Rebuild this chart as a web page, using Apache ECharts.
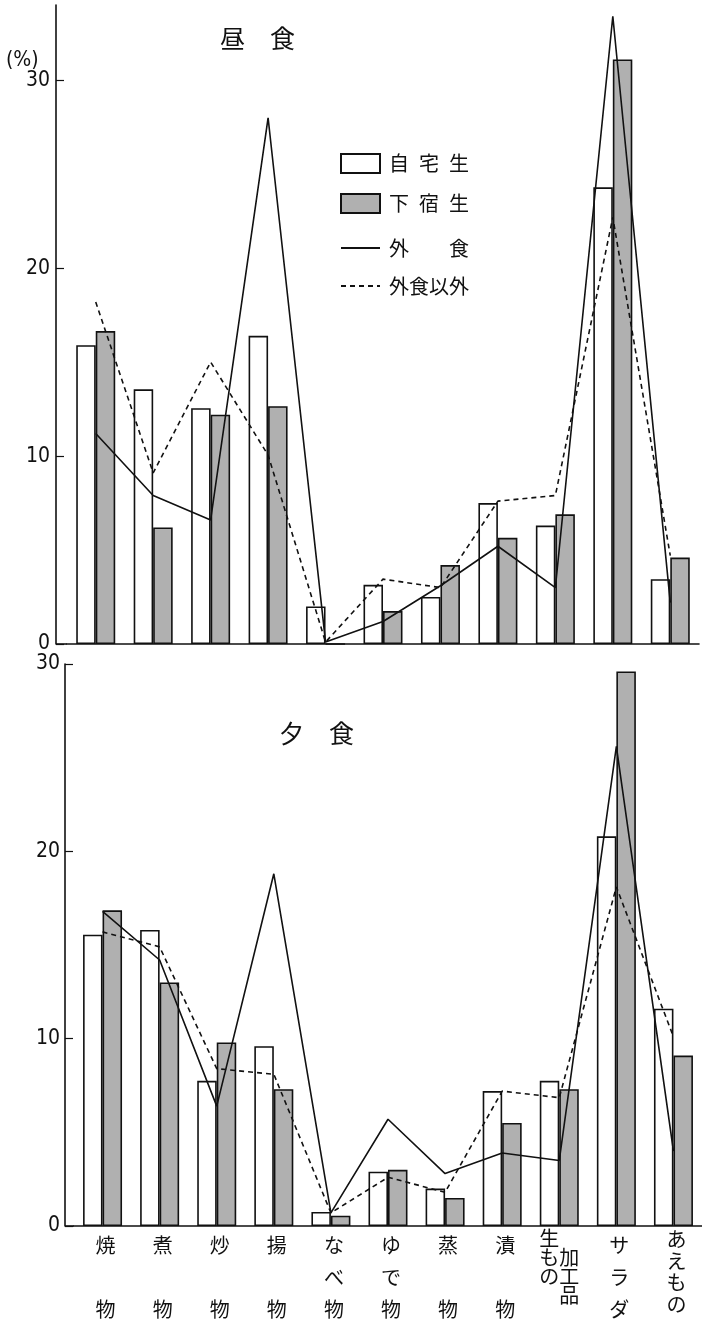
<!DOCTYPE html>
<html>
<head>
<meta charset="utf-8">
<script src="https://cdn.jsdelivr.net/npm/echarts@6/dist/echarts.min.js"></script>
<style>
  html, body { margin: 0; padding: 0; background: #fff; }
  #chart { width: 702px; height: 1319px; }
</style>
</head>
<body>
<div id="chart"></div>
<script>
// 料理法別の出現率 (%)
const categories = ['焼物', '煮物', '炒物', '揚物', 'なべ物', 'ゆで物', '蒸物', '漬物', '生もの加工品', 'サラダ', 'あえもの'];
const yTicks = [0, 10, 20, 30];

// 昼食
const lunchHome    = [15.9, 13.55, 12.55, 16.4, 2.0, 3.15, 2.5, 7.5, 6.3, 24.3, 3.45];   // 自宅生
const lunchBoard   = [16.65, 6.2, 12.2, 12.65, 0, 1.75, 4.2, 5.65, 6.9, 31.1, 4.6];      // 下宿生
const lunchOut     = [11.2, 7.9, 6.6, 28.0, 0.1, 1.2, 3.1, 5.2, 3.0, 33.4, 2.2];         // 外食
const lunchNotOut  = [18.2, 9.1, 15.0, 10.05, 0.1, 3.45, 3.0, 7.6, 7.9, 22.7, 4.7];      // 外食以外

// 夕食
const dinnerHome   = [15.55, 15.8, 7.75, 9.6, 0.75, 2.9, 2.0, 7.2, 7.75, 20.8, 11.6];
const dinnerBoard  = [16.85, 13.0, 9.8, 7.3, 0.55, 3.0, 1.5, 5.5, 7.3, 29.6, 9.1];
const dinnerOut    = [16.8, 14.2, 6.4, 18.8, 0.7, 5.7, 2.8, 3.9, 3.5, 25.6, 4.0];
const dinnerNotOut = [15.7, 14.9, 8.4, 8.1, 0.7, 2.6, 1.8, 7.2, 6.85, 18.1, 10.1];

const CJK = '"Noto Sans CJK JP", "Noto Sans", sans-serif';
const NUM = '"Liberation Sans Narrow", "DejaVu Sans Condensed", "Liberation Sans", sans-serif';
const INK = '#111';
const GRAY = '#b0b0b0';

// 縦書き風のカテゴリラベル
function verticalLabel(name) {
  if (name === '生もの加工品') {
    return ['{s|生\u3000}', '{s|も加}', '{s|の工}', '{s|\u3000品}'].join('\n');
  }
  const chars = Array.from(name);
  if (chars.length === 2) return ['{w|' + chars[0] + '}', '{w|\u3000}', '{w|' + chars[1] + '}'].join('\n');
  if (chars.length === 3) return chars.map(c => '{w|' + c + '}').join('\n');
  return chars.map(c => '{t|' + c + '}').join('\n');
}

const legendText = {
  '自宅生': '自\u2002宅\u2002生',
  '下宿生': '下\u2002宿\u2002生',
  '外食': '外\u3000\u3000食',
  '外食以外': '外食以外'
};

const grids = [
  { left: 67, width: 632, top: 5, height: 639, axisX: 56 },
  { left: 74, width: 630, top: 664, height: 562, axisX: 65 }
];

function xAxisFor(i, showLabels) {
  return {
    type: 'category', gridIndex: i, data: categories,
    axisLine: { lineStyle: { color: INK, width: 1.6 } },
    axisTick: { show: false },
    axisLabel: showLabels ? {
      interval: 0, margin: 3, color: INK,
      formatter: verticalLabel,
      rich: {
        w: { fontFamily: CJK, fontSize: 20, lineHeight: 32, color: INK, padding: [0, 0, 0, 6] },
        t: { fontFamily: CJK, fontSize: 20, lineHeight: 21.5, color: INK, padding: [0, 0, 0, 6] },
        s: { fontFamily: CJK, fontSize: 20, lineHeight: 19, color: INK }
      }
    } : { show: false }
  };
}

function yAxisFor(i, max, margin) {
  return {
    type: 'value', gridIndex: i, min: 0, max: max, interval: 10,
    offset: grids[i].left - grids[i].axisX,
    axisLine: { show: true, lineStyle: { color: INK, width: 1.6 } },
    axisTick: { show: true, inside: true, length: 8, customValues: yTicks, lineStyle: { color: INK, width: 1.2 } },
    axisLabel: { customValues: yTicks, margin: margin, color: INK, fontFamily: NUM, fontSize: 21 },
    splitLine: { show: false }
  };
}

function barSeries(name, data, i, color) {
  return {
    name: name, type: 'bar', xAxisIndex: i, yAxisIndex: i, data: data,
    barWidth: 19.5, barGap: '0%',
    itemStyle: { color: color, borderColor: INK, borderWidth: 1.6 },
    z: 2
  };
}

function lineSeries(name, data, i, dashed) {
  return {
    name: name, type: 'line', xAxisIndex: i, yAxisIndex: i, data: data,
    symbol: 'none',
    lineStyle: { color: INK, width: 1.6, type: dashed ? [5, 4] : 'solid' },
    itemStyle: { color: 'rgba(0,0,0,0)', borderWidth: 0 },
    z: 3
  };
}

const chart = echarts.init(document.getElementById('chart'), null, { renderer: 'canvas' });

chart.setOption({
  animation: false,
  backgroundColor: '#fff',
  title: [
    { text: '昼\u3000食', left: 215, top: 21, textStyle: { fontFamily: CJK, fontSize: 25, fontWeight: 'normal', color: INK } },
    { text: '夕\u3000食', left: 274, top: 716, textStyle: { fontFamily: CJK, fontSize: 25, fontWeight: 'normal', color: INK } },
    { text: '(%)', left: 1, top: 45, textStyle: { fontFamily: NUM, fontSize: 21, fontWeight: 'normal', color: INK } }
  ],
  legend: [
    {
      data: ['自宅生', '下宿生'], orient: 'vertical', left: 335, top: 148,
      icon: 'rect',
      itemWidth: 39, itemHeight: 19, itemGap: 19,
      formatter: n => legendText[n],
      textStyle: { fontFamily: CJK, fontSize: 20, color: INK, padding: [0, 0, 0, 4] }
    },
    {
      data: ['外食', '外食以外'], orient: 'vertical', left: 335, top: 233,
      itemWidth: 39, itemHeight: 19, itemGap: 18,
      itemStyle: { color: 'rgba(0,0,0,0)', borderWidth: 0, opacity: 0 },
      formatter: n => legendText[n],
      textStyle: { fontFamily: CJK, fontSize: 20, color: INK, padding: [0, 0, 0, 4] }
    }
  ],
  grid: grids.map(g => ({ left: g.left, width: g.width, top: g.top, height: g.height })),
  xAxis: [xAxisFor(0, false), xAxisFor(1, true)],
  yAxis: [yAxisFor(0, 34, 6), yAxisFor(1, 30, 5)],
  series: [
    barSeries('自宅生', lunchHome, 0, '#fff'),
    barSeries('下宿生', lunchBoard, 0, GRAY),
    lineSeries('外食', lunchOut, 0, false),
    lineSeries('外食以外', lunchNotOut, 0, true),
    barSeries('自宅生', dinnerHome, 1, '#fff'),
    barSeries('下宿生', dinnerBoard, 1, GRAY),
    lineSeries('外食', dinnerOut, 1, false),
    lineSeries('外食以外', dinnerNotOut, 1, true)
  ]
});

// 縦軸から横軸の始点までの基線をつなぐ
const joins = grids.map((g, i) => {
  const y0 = chart.convertToPixel({ yAxisIndex: i }, 0);
  return {
    type: 'line', silent: true,
    shape: { x1: g.axisX, y1: y0, x2: g.left, y2: y0 },
    style: { stroke: INK, lineWidth: 1.6 }
  };
});
chart.setOption({ graphic: joins });
</script>
</body>
</html>
